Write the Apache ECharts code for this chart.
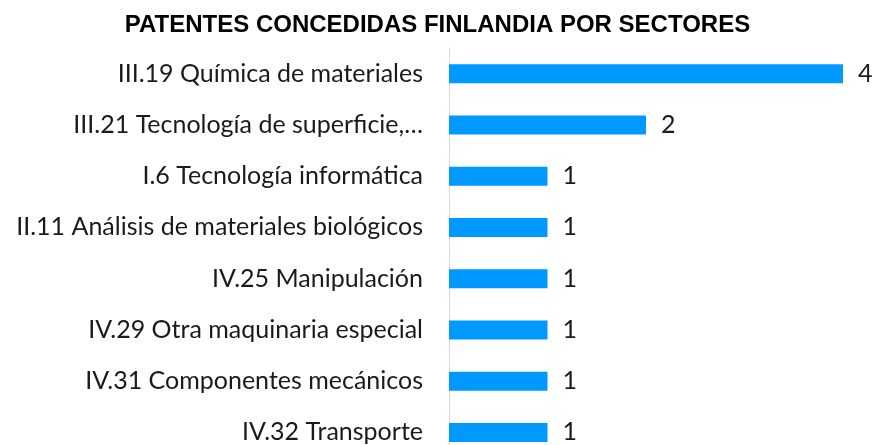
<!DOCTYPE html>
<html><head><meta charset="utf-8">
<script src="https://cdn.jsdelivr.net/npm/echarts@6/dist/echarts.min.js"></script>
<style>html,body{margin:0;padding:0;background:#fff;overflow:hidden}#c{width:875px;height:445px}</style>
</head><body><div id="c"></div>
<script>
const categories = [
  "III.19 Química de materiales",
  "III.21 Tecnología de superficie,…",
  "I.6 Tecnología informática",
  "II.11 Análisis de materiales biológicos",
  "IV.25 Manipulación",
  "IV.29 Otra maquinaria especial",
  "IV.31 Componentes mecánicos",
  "IV.32 Transporte"
];
const values = [4, 2, 1, 1, 1, 1, 1, 1];
const titleText = "PATENTES CONCEDIDAS FINLANDIA POR SECTORES";

const chart = echarts.init(document.getElementById('c'));
chart.setOption({
  animation: false,
  title: {
    text: titleText, left: 'center', top: 8,
    textStyle: {fontFamily: 'Liberation Sans', fontWeight: 'bold', fontSize: 24, color: '#000'}
  },
  grid: {left: 449, top: 48, width: 394, height: 410, containLabel: false, outerBoundsMode: 'none'},
  xAxis: {type: 'value', min: 0, max: 4, show: false},
  yAxis: {
    type: 'category', data: categories, inverse: true,
    axisLine: {show: true, lineStyle: {color: '#d9d9d9', width: 1}},
    axisTick: {show: false},
    axisLabel: {margin: 26, fontFamily: 'Lato', fontSize: 25, color: '#1a1a1a'}
  },
  series: [{
    type: 'bar', data: values, barWidth: 19,
    itemStyle: {color: '#0099FF'},
    label: {show: true, position: 'right', distance: 15, fontFamily: 'Lato', fontSize: 25, color: '#1a1a1a'}
  }]
});
</script></body></html>
